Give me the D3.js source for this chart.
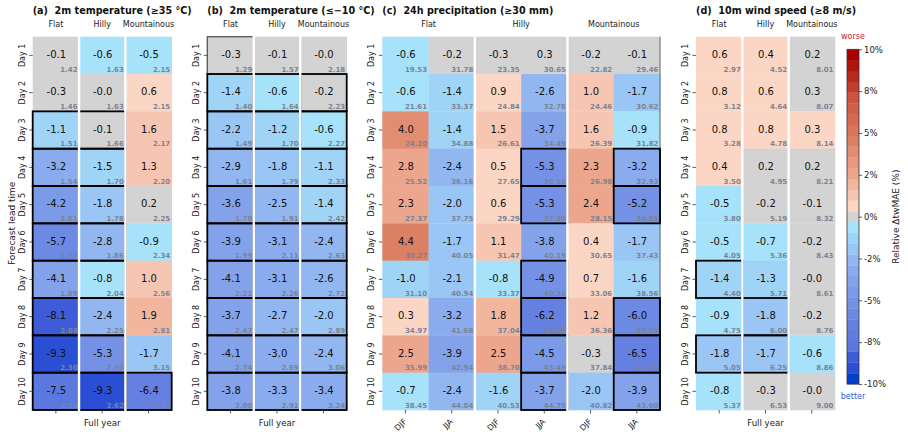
<!DOCTYPE html>
<html>
<head>
<meta charset="utf-8">
<script src="https://cdn.jsdelivr.net/npm/d3@7"></script>
<style>
  body { margin: 0; background: #fff; }
  svg { display: block; font-family: "DejaVu Sans", sans-serif; }
</style>
</head>
<body>
<svg id="chart" width="908" height="436"></svg>
<script>
const days = ["Day 1", "Day 2", "Day 3", "Day 4", "Day 5", "Day 6", "Day 7", "Day 8", "Day 9", "Day 10"];
const terrains = ["Flat", "Hilly", "Mountainous"];
const seasons = ["DJF", "JJA"];

// (a) 2m temperature >= 35 °C : relative change (%) and reference MAE, per terrain
const hotRel = [
  [-0.1, -0.3, -1.1, -3.2, -4.2, -5.7, -4.1, -8.1, -9.3, -7.5],
  [-0.6, -0.02, -0.1, -1.5, -1.8, -2.8, -0.8, -2.4, -5.3, -9.34],
  [-0.5, 0.6, 1.6, 1.3, 0.2, -0.9, 1.0, 1.9, -1.7, -6.4]
];
const hotMae = [
  [1.42, 1.46, 1.51, 1.54, 1.61, 1.72, 1.89, 2.08, 2.30, 2.51],
  [1.63, 1.63, 1.66, 1.70, 1.78, 1.86, 2.04, 2.25, 2.50, 2.62],
  [2.15, 2.15, 2.17, 2.20, 2.25, 2.34, 2.56, 2.81, 3.15, 3.23]
];
const hotSig = [[3, 4, 5, 6, 7, 8, 9, 10], [3, 4, 5, 6, 7, 8, 9, 10], [10]];
const hotWeak = [[], [], []];

// (b) 2m temperature <= -10 °C
const coldRel = [
  [-0.3, -1.4, -2.2, -2.9, -3.6, -3.9, -4.1, -3.7, -4.1, -3.8],
  [-0.1, -0.6, -1.2, -1.8, -2.5, -3.1, -3.1, -2.7, -3.0, -3.3],
  [-0.03, -0.2, -0.6, -1.1, -1.4, -2.4, -2.6, -2.0, -2.4, -3.4]
];
const coldMae = [
  [1.29, 1.40, 1.49, 1.61, 1.78, 1.99, 2.21, 2.47, 2.74, 3.00],
  [1.57, 1.64, 1.70, 1.79, 1.91, 2.11, 2.26, 2.47, 2.69, 2.91],
  [2.18, 2.23, 2.27, 2.33, 2.42, 2.63, 2.72, 2.89, 3.06, 3.24]
];
const coldSig = [[2, 3, 4, 5, 6, 7, 8, 9, 10], [2, 3, 4, 5, 6, 7, 8, 9, 10], [2, 3, 4, 5, 6, 7, 8, 9, 10]];
const coldWeak = [[1], [], []];

// (c) 24h precipitation >= 30 mm : Flat DJF, Flat JJA, Hilly DJF, Hilly JJA, Mountainous DJF, Mountainous JJA
const precRel = [
  [-0.6, -0.6, 4.0, 2.8, 2.3, 4.4, -1.0, 0.34, 2.5, -0.7],
  [-0.2, -1.4, -1.4, -2.4, -2.0, -1.7, -2.1, -3.2, -3.9, -2.4],
  [-0.3, 0.9, 1.5, 0.5, 0.6, 1.1, -0.8, 1.8, 2.5, -1.6],
  [0.3, -2.6, -3.7, -5.3, -5.3, -3.8, -4.9, -6.2, -4.5, -3.7],
  [-0.2, 1.0, 1.6, 2.3, 2.4, 0.4, 0.7, 1.2, -0.3, -2.0],
  [-0.1, -1.7, -0.9, -3.2, -5.2, -1.7, -1.6, -6.0, -6.5, -3.9]
];
const precMae = [
  [19.53, 21.61, 24.20, 25.52, 27.37, 30.27, 31.10, 34.97, 35.99, 38.45],
  [31.78, 33.37, 34.88, 36.16, 37.75, 40.05, 40.94, 41.68, 42.94, 44.04],
  [23.35, 24.84, 26.61, 27.65, 29.29, 31.47, 33.37, 37.04, 38.70, 40.53],
  [30.65, 32.78, 34.49, 36.15, 37.39, 40.19, 40.33, 41.69, 43.49, 44.79],
  [22.82, 24.46, 26.39, 26.98, 28.15, 30.65, 33.06, 36.36, 37.84, 40.82],
  [29.46, 30.62, 31.82, 32.93, 34.85, 37.43, 38.56, 39.34, 41.49, 43.60]
];
const precSig = [[], [], [], [4, 5, 7, 8, 9, 10], [], [4, 5, 8, 9, 10]];
const precWeak = [[], [], [], [], [], []];

// (d) 10m wind speed >= 8 m/s
const windRel = [
  [0.6, 0.8, 0.8, 0.4, -0.5, -0.5, -1.4, -0.9, -1.8, -0.8],
  [0.4, 0.6, 0.8, 0.2, -0.2, -0.7, -1.3, -1.8, -1.7, -0.3],
  [0.2, 0.3, 0.34, 0.2, -0.1, -0.2, -0.02, -0.2, -0.6, -0.04]
];
const windMae = [
  [2.97, 3.12, 3.28, 3.50, 3.80, 4.05, 4.40, 4.75, 5.05, 5.37],
  [4.52, 4.64, 4.78, 4.95, 5.19, 5.36, 5.71, 6.00, 6.25, 6.53],
  [8.01, 8.07, 8.14, 8.21, 8.32, 8.43, 8.61, 8.76, 8.86, 9.00]
];
const windSig = [[7, 9], [8, 9], []];
const windWeak = [[], [], []];

const cbTicks = [-10, -7.5, -5, -2.5, 0, 2.5, 5, 7.5, 10];
const cbTickLabels = ["-10%", "-8%", "-5%", "-2%", "0%", "2%", "5%", "8%", "10%"];

const svg = d3.select("#chart");
const yTop = 36.7, yBot = 410;

// discrete colormap, 31 bins between -10 and 10, grey bin around zero
const nBins = 31, vMin = -10, vMax = 10;
const binW = (vMax - vMin) / nBins;
const blue = d3.scaleLinear()
  .domain([-10, -9.68, -9.03, -8.39, -7.74, -6.45, -3, -0.65])
  .range(["#003ccc", "#043ecd", "#2a4ed4", "#3e5bd8", "#5a78de", "#6580e0", "#8daeee", "#a7e2fb"])
  .clamp(true);
const red = d3.scaleLinear()
  .domain([0.65, 2.5, 4.5, 7, 9.68])
  .range(["#fcd6c4", "#eda88f", "#dc8064", "#ce5541", "#a80000"])
  .clamp(true);
function binCenter(v) {
  const i = Math.max(0, Math.min(nBins - 1, Math.floor((v - vMin) / binW)));
  return vMin + (i + 0.5) * binW;
}
function colorOf(v) {
  const c = binCenter(v);
  if (Math.abs(c) < binW / 2) return "#d3d3d3";
  return c < 0 ? blue(c) : red(c);
}

const panels = [
  { title: "(a)  2m temperature (≥35 °C)", x0: 32.7, x1: 171.7, rel: hotRel, mae: hotMae, sig: hotSig, weak: hotWeak, sub: null },
  { title: "(b)  2m temperature (≤−10 °C)", x0: 207.3, x1: 346.7, rel: coldRel, mae: coldMae, sig: coldSig, weak: coldWeak, sub: null },
  { title: "(c)  24h precipitation (≥30 mm)", x0: 382.3, x1: 660, rel: precRel, mae: precMae, sig: precSig, weak: precWeak, sub: seasons, edge: true },
  { title: "(d)  10m wind speed (≥8 m/s)", x0: 696, x1: 835, rel: windRel, mae: windMae, sig: windSig, weak: windWeak, sub: null }
];

function drawPanel(p) {
  const g = svg.append("g");
  const nCols = p.rel.length;
  const x = d3.scaleBand().domain(d3.range(nCols)).range([p.x0, p.x1]);
  const y = d3.scaleBand().domain(days).range([yTop, yBot]);
  const bw = x.bandwidth(), bh = y.bandwidth();

  const cells = [];
  p.rel.forEach((col, c) => col.forEach((v, r) => {
    cells.push({ c, r, v, m: p.mae[c][r], sig: p.sig[c].includes(r + 1), weak: p.weak[c].includes(r + 1) });
  }));

  g.selectAll("rect.cell")
    .data(cells)
    .join("rect")
    .attr("class", "cell")
    .attr("x", (d) => x(d.c))
    .attr("y", (d) => y(days[d.r]))
    .attr("width", bw + 0.3)
    .attr("height", bh + 0.3)
    .attr("fill", (d) => colorOf(d.v));

  if (p.edge) {
    g.append("line")
      .attr("x1", p.x1).attr("x2", p.x1)
      .attr("y1", yTop).attr("y2", yBot)
      .attr("stroke", "#666")
      .attr("stroke-width", 1);
  }

  g.selectAll("rect.weak")
    .data(cells.filter((d) => d.weak))
    .join("rect")
    .attr("class", "weak")
    .attr("x", (d) => x(d.c))
    .attr("y", (d) => y(days[d.r]))
    .attr("width", bw)
    .attr("height", bh)
    .attr("fill", "none")
    .attr("stroke", "#555")
    .attr("stroke-width", 1.3);

  g.selectAll("rect.sig")
    .data(cells.filter((d) => d.sig))
    .join("rect")
    .attr("class", "sig")
    .attr("x", (d) => x(d.c))
    .attr("y", (d) => y(days[d.r]))
    .attr("width", bw)
    .attr("height", bh)
    .attr("fill", "none")
    .attr("stroke", "#000")
    .attr("stroke-width", 1.8);

  // white separators between terrain groups
  const step = p.sub ? 2 : 1;
  g.selectAll("line.sep")
    .data(d3.range(step, nCols, step))
    .join("line")
    .attr("x1", (d) => x(d))
    .attr("x2", (d) => x(d))
    .attr("y1", yTop - 1)
    .attr("y2", yBot + 1)
    .attr("stroke", "#fff")
    .attr("stroke-width", 2.4);

  g.selectAll("text.val")
    .data(cells)
    .join("text")
    .attr("class", "val")
    .attr("x", (d) => x(d.c) + bw / 2 + 0.5)
    .attr("y", (d) => y(days[d.r]) + bh / 2 - 0.8)
    .attr("dominant-baseline", "central")
    .attr("text-anchor", "middle")
    .attr("font-size", "10px")
    .attr("fill", "#111")
    .text((d) => d.v.toFixed(1));

  g.selectAll("text.mae")
    .data(cells)
    .join("text")
    .attr("class", "mae")
    .attr("x", (d) => x(d.c) + bw - 1.5)
    .attr("y", (d) => y(days[d.r]) + bh - 2.5)
    .attr("text-anchor", "end")
    .attr("font-size", "7px")
    .attr("font-weight", "bold")
    .attr("fill", "#7b8494")
    .text((d) => d.m.toFixed(2));

  // title
  g.append("text")
    .attr("x", p.x0)
    .attr("y", 13.5)
    .attr("font-size", "9.6px")
    .attr("font-weight", "bold")
    .attr("fill", "#111")
    .style("white-space", "pre")
    .text(p.title);

  // terrain headers
  const headX = terrains.map((t, i) => p.sub ? x(2 * i) + bw : x(i) + bw / 2);
  g.selectAll("text.head")
    .data(terrains)
    .join("text")
    .attr("class", "head")
    .attr("x", (d, i) => headX[i])
    .attr("y", 27)
    .attr("text-anchor", "middle")
    .attr("font-size", "8px")
    .attr("fill", "#222")
    .text((d) => d);

  // y axis
  const ya = g.append("g")
    .attr("transform", `translate(${p.x0},0)`)
    .call(d3.axisLeft(y).tickSize(3.5).tickSizeOuter(0));
  ya.select(".domain").remove();
  ya.selectAll(".tick line").attr("stroke", "#333").attr("stroke-width", 0.8);
  ya.selectAll(".tick text")
    .attr("transform", "rotate(-90)")
    .attr("x", 0)
    .attr("y", -8)
    .attr("dy", 0)
    .attr("text-anchor", "middle")
    .attr("font-family", "DejaVu Sans")
    .attr("font-size", "8px")
    .attr("fill", "#222");

  // x axis
  const xa = g.append("g")
    .attr("transform", `translate(0,${yBot})`)
    .call(d3.axisBottom(x).tickSize(3.5).tickSizeOuter(0)
      .tickFormat((i) => p.sub ? p.sub[i % 2] : ""));
  xa.select(".domain").remove();
  xa.selectAll(".tick line").attr("stroke", "#333").attr("stroke-width", 0.8);
  if (p.sub) {
    xa.selectAll(".tick text")
      .attr("transform", "translate(1.7,12) rotate(-45)")
      .attr("x", 0)
      .attr("y", 0)
      .attr("dy", 0)
      .attr("text-anchor", "end")
      .attr("font-family", "DejaVu Sans")
      .attr("font-size", "8px")
      .attr("fill", "#222");
  } else {
    g.append("text")
      .attr("x", (p.x0 + p.x1) / 2)
      .attr("y", 426)
      .attr("text-anchor", "middle")
      .attr("font-size", "8.6px")
      .attr("fill", "#222")
      .text("Full year");
  }
}

panels.forEach(drawPanel);

// y label
svg.append("text")
  .attr("transform", "translate(14.5,223.3) rotate(-90)")
  .attr("text-anchor", "middle")
  .attr("font-size", "9px")
  .attr("fill", "#222")
  .text("Forecast lead time");

// colorbar
const cbX = 847, cbW = 12;
const cbY = d3.scaleLinear().domain([vMin, vMax]).range([384, 49.3]);
const bins = d3.range(nBins).map((i) => vMin + i * binW);
const cb = svg.append("g");
cb.selectAll("rect")
  .data(bins)
  .join("rect")
  .attr("x", cbX)
  .attr("y", (d) => cbY(d + binW))
  .attr("width", cbW)
  .attr("height", (d) => cbY(d) - cbY(d + binW) + 0.3)
  .attr("fill", (d) => colorOf(d + binW / 2));
cb.append("rect")
  .attr("x", cbX)
  .attr("y", cbY(vMax))
  .attr("width", cbW)
  .attr("height", cbY(vMin) - cbY(vMax))
  .attr("fill", "none")
  .attr("stroke", "#333")
  .attr("stroke-width", 0.8);
const cba = cb.append("g")
  .attr("transform", `translate(${cbX + cbW},0)`)
  .call(d3.axisRight(cbY).tickValues(cbTicks).tickSize(3)
    .tickFormat((d, i) => cbTickLabels[i]));
cba.select(".domain").remove();
cba.selectAll(".tick line").attr("stroke", "#333").attr("stroke-width", 0.8);
cba.selectAll(".tick text")
  .attr("x", 5)
  .attr("font-family", "DejaVu Sans")
  .attr("font-size", "8.5px")
  .attr("fill", "#222");

svg.append("text")
  .attr("x", cbX + cbW / 2)
  .attr("y", 39)
  .attr("text-anchor", "middle")
  .attr("font-size", "8px")
  .attr("fill", "#cc2020")
  .text("worse");
svg.append("text")
  .attr("x", cbX + cbW / 2)
  .attr("y", 399)
  .attr("text-anchor", "middle")
  .attr("font-size", "8px")
  .attr("fill", "#2a62d8")
  .text("better");
svg.append("text")
  .attr("transform", "translate(898.5,216.7) rotate(-90)")
  .attr("text-anchor", "middle")
  .attr("font-size", "9px")
  .attr("fill", "#222")
  .text("Relative ΔtwMAE (%)");
</script>
</body>
</html>
